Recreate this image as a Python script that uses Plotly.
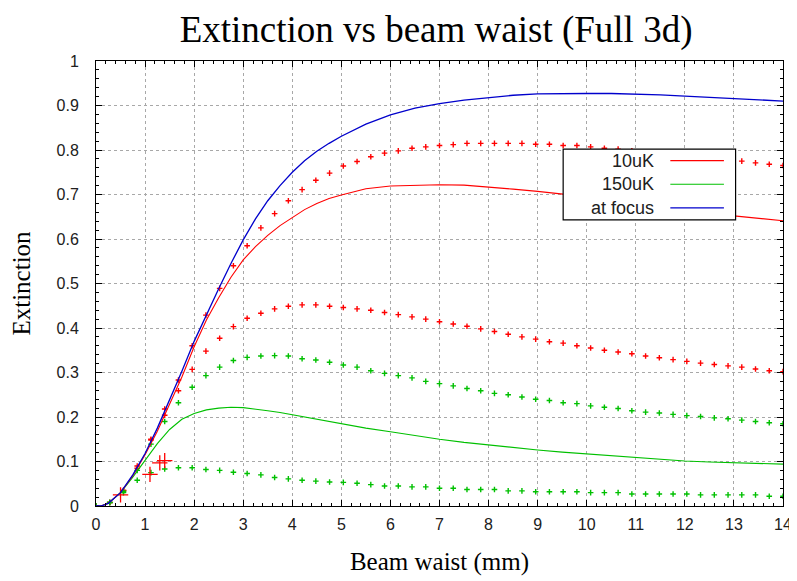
import plotly.graph_objects as go

# ---------------- data ----------------
x_line = [0.0, 0.1, 0.25, 0.5, 0.75, 1.0, 1.25, 1.5, 1.75, 2.0, 2.25, 2.5, 2.75, 3.0, 3.25, 3.5,
          3.75, 4.0, 4.25, 4.5, 4.75, 5.0, 5.5, 6.0, 6.5, 7.0, 7.5, 8.0, 8.5, 9.0, 9.5, 10.0,
          10.5, 11.0, 11.5, 12.0, 12.5, 13.0, 13.5, 14.0]

focus_line = [0.0, 0.0, 0.006, 0.03, 0.07, 0.118, 0.175, 0.238, 0.303, 0.37, 0.43, 0.488, 0.545,
              0.598, 0.645, 0.686, 0.72, 0.75, 0.776, 0.797, 0.815, 0.831, 0.858, 0.879, 0.894,
              0.904, 0.912, 0.918, 0.923, 0.926, 0.927, 0.927, 0.927, 0.926, 0.924, 0.921,
              0.918, 0.915, 0.913, 0.910]

uk10_line = [0.0, 0.0, 0.006, 0.03, 0.068, 0.115, 0.168, 0.228, 0.29, 0.358, 0.418, 0.468, 0.514,
             0.553, 0.583, 0.608, 0.63, 0.648, 0.666, 0.68, 0.691, 0.699, 0.713, 0.719, 0.721,
             0.722, 0.721, 0.717, 0.712, 0.707, 0.701, 0.695, 0.689, 0.681, 0.673, 0.665, 0.658,
             0.652, 0.646, 0.641]

uk150_line = [0.0, 0.0, 0.006, 0.03, 0.065, 0.103, 0.14, 0.172, 0.195, 0.208, 0.216, 0.22, 0.222,
              0.221, 0.218, 0.214, 0.21, 0.205, 0.2, 0.196, 0.19, 0.185, 0.175, 0.167, 0.158,
              0.150, 0.143, 0.137, 0.131, 0.126, 0.121, 0.117, 0.112, 0.109, 0.105, 0.101, 0.099,
              0.097, 0.095, 0.094]

x_dots = [0.00, 0.28, 0.56, 0.84, 1.12, 1.40, 1.68, 1.96, 2.24, 2.52, 2.80, 3.08, 3.36, 3.64,
          3.92, 4.20, 4.48, 4.76, 5.04, 5.32, 5.60, 5.88, 6.16, 6.44, 6.72, 7.00, 7.28, 7.56,
          7.84, 8.12, 8.40, 8.68, 8.96, 9.24, 9.52, 9.80, 10.08, 10.36, 10.64, 10.92, 11.20,
          11.48, 11.76, 12.04, 12.32, 12.60, 12.88, 13.16, 13.44, 13.72, 14.00]

red_upper = [0.0, 0.008, 0.035, 0.09, 0.15, 0.218, 0.283, 0.36, 0.429, 0.489, 0.540, 0.585, 0.625,
             0.657, 0.686, 0.711, 0.732, 0.748, 0.764, 0.774, 0.785, 0.793, 0.798, 0.804, 0.807,
             0.810, 0.812, 0.815, 0.815, 0.815, 0.815, 0.815, 0.813, 0.813, 0.810, 0.810, 0.807,
             0.804, 0.802, 0.798, 0.796, 0.793, 0.790, 0.787, 0.784, 0.781, 0.778, 0.775, 0.771,
             0.768, 0.765]

red_middle = [0.0, 0.008, 0.035, 0.085, 0.148, 0.204, 0.259, 0.307, 0.348, 0.377, 0.403, 0.422,
              0.433, 0.443, 0.449, 0.452, 0.452, 0.449, 0.446, 0.443, 0.440, 0.435, 0.430, 0.425,
              0.420, 0.414, 0.409, 0.404, 0.398, 0.392, 0.386, 0.380, 0.375, 0.369, 0.366, 0.360,
              0.355, 0.350, 0.346, 0.342, 0.337, 0.333, 0.329, 0.325, 0.321, 0.318, 0.315, 0.312,
              0.308, 0.304, 0.302]

green_upper = [0.0, 0.008, 0.033, 0.08, 0.139, 0.190, 0.232, 0.267, 0.293, 0.312, 0.327, 0.334,
               0.337, 0.338, 0.337, 0.331, 0.328, 0.323, 0.317, 0.312, 0.304, 0.298, 0.293, 0.288,
               0.280, 0.275, 0.270, 0.264, 0.259, 0.253, 0.250, 0.245, 0.240, 0.237, 0.232, 0.230,
               0.225, 0.222, 0.219, 0.214, 0.211, 0.209, 0.206, 0.203, 0.201, 0.198, 0.196, 0.193,
               0.190, 0.187, 0.185]

green_lower = [0.0, 0.008, 0.03, 0.058, 0.075, 0.083, 0.086, 0.086, 0.082, 0.080, 0.076, 0.073,
               0.070, 0.064, 0.061, 0.058, 0.056, 0.054, 0.053, 0.051, 0.048, 0.045, 0.045, 0.043,
               0.043, 0.040, 0.040, 0.037, 0.037, 0.037, 0.034, 0.034, 0.032, 0.032, 0.032, 0.032,
               0.030, 0.030, 0.030, 0.027, 0.027, 0.027, 0.027, 0.027, 0.025, 0.025, 0.025, 0.025,
               0.025, 0.022, 0.022]

meas_x = [0.5, 1.1, 1.3, 1.4]
meas_y = [0.025, 0.071, 0.097, 0.102]

x_ticks = list(range(0, 15))
y_ticks = [0, 0.1, 0.2, 0.3, 0.4, 0.5, 0.6, 0.7, 0.8, 0.9, 1]
y_tick_text = ["0", "0.1", "0.2", "0.3", "0.4", "0.5", "0.6", "0.7", "0.8", "0.9", "1"]

legend_names = ["10uK", "150uK", "at focus"]
RED, GREEN, BLUE = "#ff0000", "#00c000", "#0000cc"

# ---------------- figure ----------------
fig = go.Figure()

def dots(y, color):
    fig.add_trace(go.Scatter(x=x_dots, y=y, mode="markers", showlegend=False,
                             marker=dict(symbol="cross-thin", size=4, color=color,
                                         line=dict(color=color, width=1.4))))

dots(red_upper, RED)
dots(red_middle, RED)
dots(green_upper, GREEN)
dots(green_lower, GREEN)

fig.add_trace(go.Scatter(x=meas_x, y=meas_y, mode="markers", showlegend=False,
                         marker=dict(symbol="cross-thin", size=11, color=RED,
                                     line=dict(color=RED, width=1.3))))

fig.add_trace(go.Scatter(x=x_line, y=uk150_line, mode="lines", name=legend_names[1],
                         line=dict(color=GREEN, width=1.1), showlegend=False))
fig.add_trace(go.Scatter(x=x_line, y=uk10_line, mode="lines", name=legend_names[0],
                         line=dict(color=RED, width=1.1), showlegend=False))
fig.add_trace(go.Scatter(x=x_line, y=focus_line, mode="lines", name=legend_names[2],
                         line=dict(color=BLUE, width=1.3), showlegend=False))

# custom legend box (text, then the line sample to its right, gnuplot style)
fig.add_shape(type="rect", xref="paper", yref="paper", x0=0.680, x1=0.931, y0=0.643, y1=0.802,
              line=dict(color="black", width=1.2), fillcolor="white", layer="above")
leg_y = [0.776, 0.723, 0.670]
for name, col, yy in zip(legend_names, [RED, GREEN, BLUE], leg_y):
    fig.add_annotation(xref="paper", yref="paper", x=0.815, y=yy, text=name, showarrow=False,
                       xanchor="right", yanchor="middle",
                       font=dict(family="Liberation Sans, Arial", size=18, color="#202020"))
    fig.add_shape(type="line", xref="paper", yref="paper", x0=0.836, x1=0.914, y0=yy, y1=yy,
                  line=dict(color=col, width=1.2), layer="above")

axis_common = dict(showline=True, linecolor="black", linewidth=1, mirror="ticks",
                   ticks="inside", ticklen=6, tickcolor="black",
                   showgrid=True, gridcolor="#a8a8a8", griddash="dot", gridwidth=1,
                   zeroline=False, automargin=False,
                   tickfont=dict(family="Liberation Sans, Arial", size=16, color="#202020"))

fig.update_xaxes(range=[0, 14], tickvals=x_ticks, **axis_common, ticklabelstandoff=4,
                 minor=dict(dtick=0.2, ticks="inside", ticklen=3, tickcolor="black", showgrid=False),
                 title=dict(text="Beam waist (mm)", standoff=20,
                            font=dict(family="Liberation Serif, Times New Roman", size=25, color="black")))
fig.update_yaxes(range=[0, 1], tickvals=y_ticks, ticktext=y_tick_text, **axis_common,
                 ticklabelstandoff=13,
                 minor=dict(dtick=0.02, ticks="inside", ticklen=3, tickcolor="black", showgrid=False),
                 title=dict(text="Extinction", standoff=20,
                            font=dict(family="Liberation Serif, Times New Roman", size=25, color="black")))

fig.update_layout(
    width=789, height=573,
    margin=dict(l=88, r=14, t=53, b=75, autoexpand=False),
    paper_bgcolor="white", plot_bgcolor="white",
    title=dict(text="Extinction vs beam waist (Full 3d)", x=0.495, xref="paper",
               y=0.986, yref="container", yanchor="top",
               font=dict(family="Liberation Serif, Times New Roman", size=37, color="black")),
    showlegend=False,
)

fig.write_html("out.html")
